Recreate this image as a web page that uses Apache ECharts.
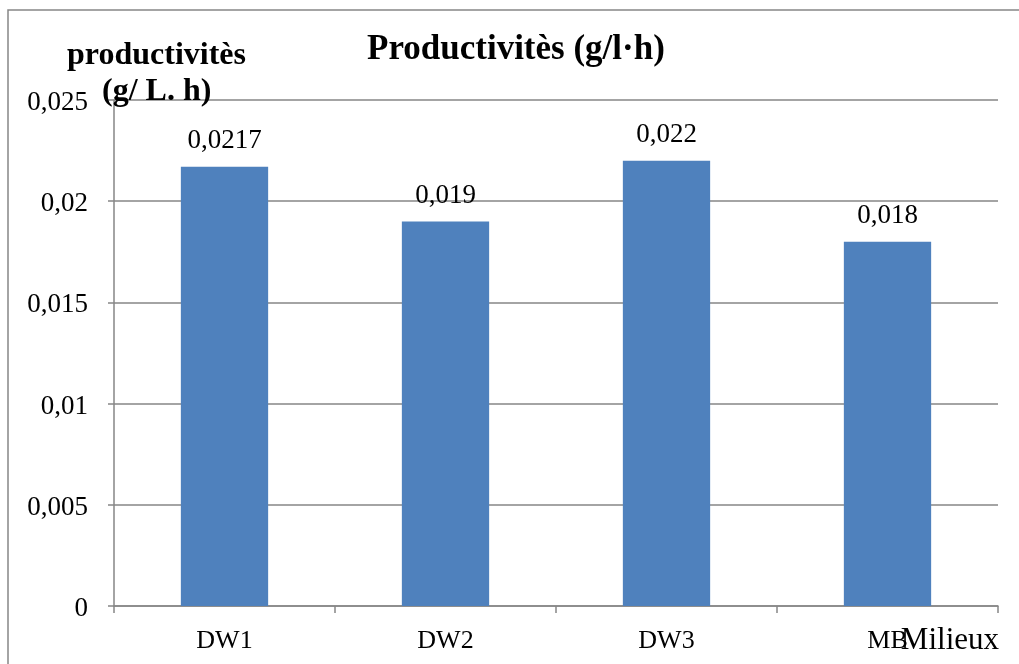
<!DOCTYPE html>
<html>
<head>
<meta charset="utf-8">
<script src="https://cdn.jsdelivr.net/npm/echarts@6/dist/echarts.min.js"></script>
<style>
  html, body { margin: 0; padding: 0; background: #fff; }
  #chart { width: 1019px; height: 664px; }
</style>
</head>
<body>
<div id="chart"></div>
<script>
// Productivity per culture medium
const categories = ['DW1', 'DW2', 'DW3', 'MB'];
const productivity = [0.0217, 0.019, 0.022, 0.018];
const yTicks = { min: 0, max: 0.025, step: 0.005 };

const serif = '"Liberation Serif", "Times New Roman", serif';
const gray = '#868686';
const comma = v => String(+v.toFixed(4)).replace('.', ',');

const chart = echarts.init(document.getElementById('chart'));
chart.setOption({
  animation: false,
  title: {
    text: 'Productivitès (g/l·h)',
    left: 367,
    top: 32,
    padding: 0,
    textStyle: { fontFamily: serif, fontWeight: 'bold', fontSize: 35, color: '#000' }
  },
  graphic: [
    {
      type: 'rect',
      shape: { x: 8, y: 10, width: 1200, height: 800 },
      style: { fill: 'none', stroke: gray, lineWidth: 1.5 },
      silent: true
    },
    {
      type: 'text',
      left: 67,
      top: 40,
      style: {
        text: 'productivitès',
        font: 'bold 32px ' + serif,
        fill: '#000'
      }
    },
    {
      type: 'text',
      left: 102,
      top: 76,
      z: 10,
      style: {
        text: '(g/ L. h)',
        font: 'bold 32px ' + serif,
        fill: '#000'
      }
    },
    {
      // x-axis caption, right-aligned with the end of the axis
      type: 'text',
      right: 20,
      top: 625,
      z: 10,
      style: {
        text: 'Milieux',
        font: '31px ' + serif,
        fill: '#000'
      }
    }
  ],
  grid: { left: 114, right: 21, top: 100, bottom: 58 },
  xAxis: {
    type: 'category',
    data: categories,
    axisLine: { lineStyle: { color: gray, width: 1.5 } },
    axisTick: { show: true, length: 7, lineStyle: { color: gray, width: 1.5 } },
    axisLabel: { fontFamily: serif, fontSize: 26, color: '#000', margin: 22 }
  },
  yAxis: {
    type: 'value',
    min: yTicks.min,
    max: yTicks.max,
    interval: yTicks.step,
    axisLine: { show: true, lineStyle: { color: gray, width: 1.5 } },
    axisTick: { show: true, length: 6, lineStyle: { color: gray, width: 1.5 } },
    splitLine: { lineStyle: { color: gray, width: 1.5 } },
    axisLabel: {
      margin: 26,
      formatter: v => '{t|' + comma(v) + '}',
      rich: {
        t: { fontFamily: serif, fontSize: 27, color: '#000', padding: [6, 0, 0, 0] }
      }
    }
  },
  series: [{
    type: 'bar',
    data: productivity,
    barWidth: '39.5%',
    itemStyle: { color: '#4F81BD' },
    label: {
      show: true,
      position: 'top',
      distance: 12,
      fontFamily: serif,
      fontSize: 27,
      color: '#000',
      formatter: p => comma(p.value)
    }
  }]
});
</script>
</body>
</html>
